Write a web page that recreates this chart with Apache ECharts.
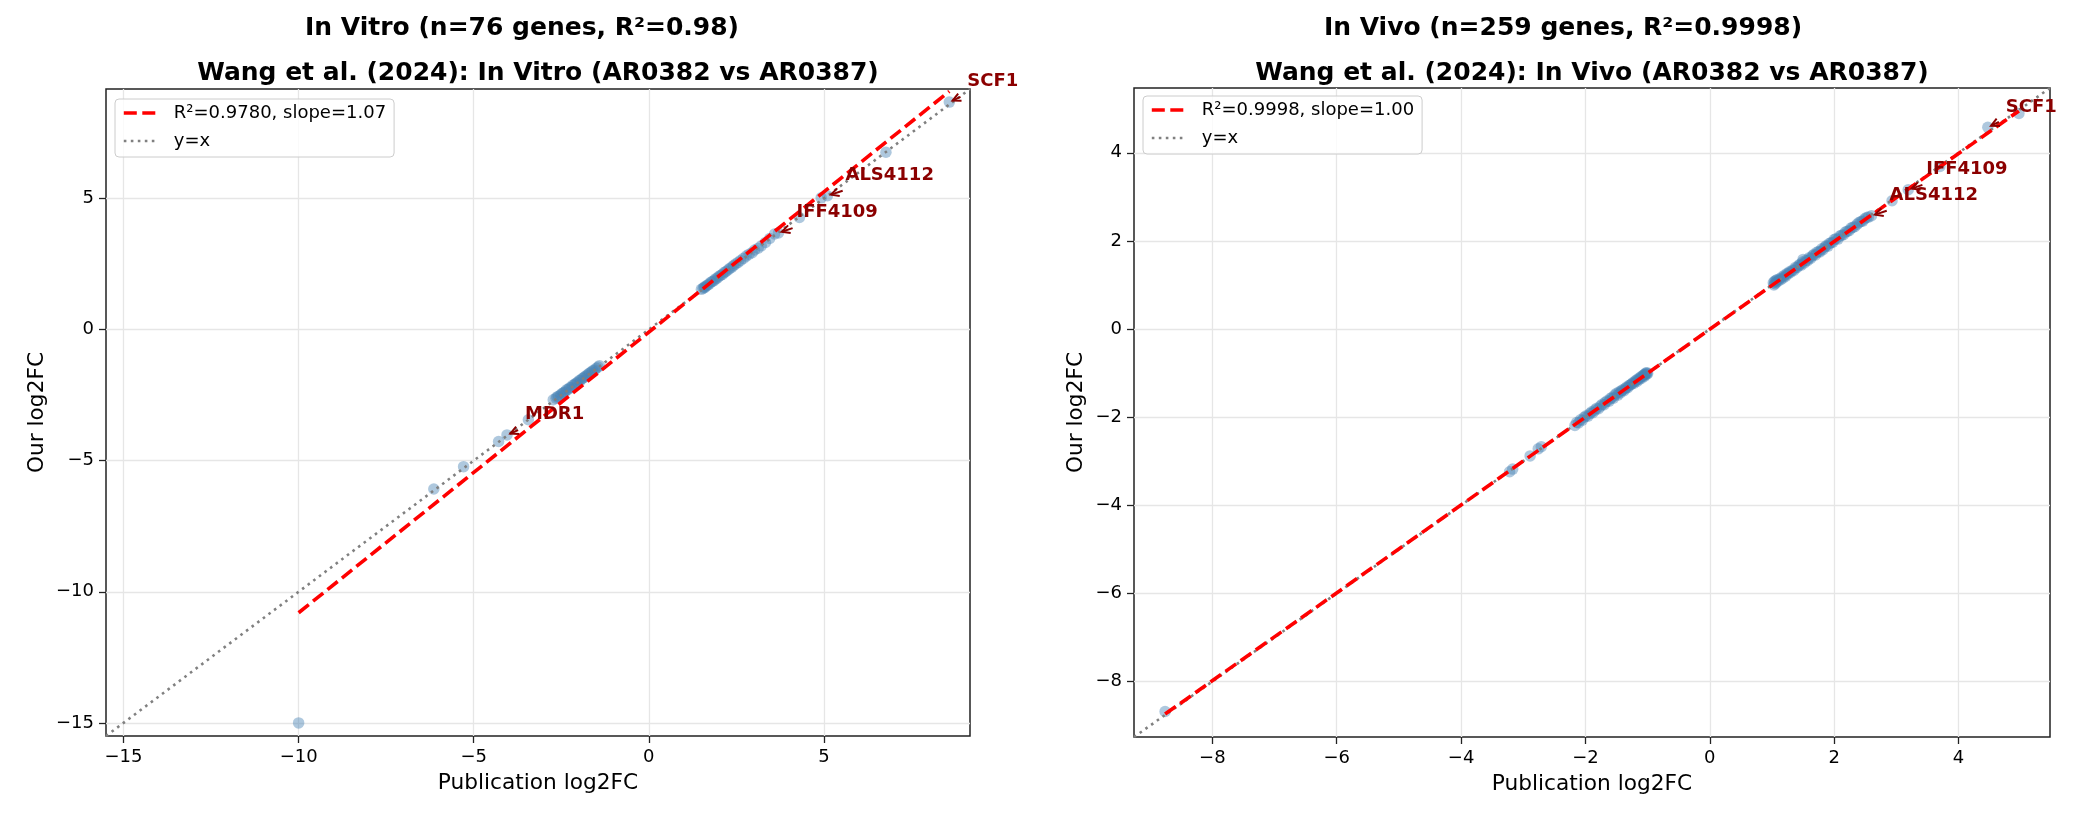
<!DOCTYPE html>
<html>
<head>
<meta charset="utf-8">
<title>Wang et al. (2024): publication vs our log2FC</title>
<script src="https://cdn.jsdelivr.net/npm/echarts@6/dist/echarts.min.js"></script>
<style>
  html, body { margin: 0; padding: 0; background: #fff; }
  #chart { width: 2085px; height: 823px; }
</style>
</head>
<body>
<div id="chart"></div>
<script>
// ---- In Vitro (n=76) : [publication log2FC, our log2FC] ----
var vitroLabelled = [
  { name: 'SCF1',    value: [8.58, 8.67] },
  { name: 'ALS4112', value: [5.10, 5.10] },
  { name: 'IFF4109', value: [3.70, 3.68] },
  { name: 'MDR1',    value: [-4.05, -4.02] }
];
var vitroOther = [
  [-10, -15], [-6.14, -6.08], [-5.29, -5.23], [-4.29, -4.27], [-3.44, -3.44],
  [3.59, 3.64], [4.30, 4.27], [4.92, 5.02], [6.77, 6.76]
];
var vitroDown = [
  [-2.73, -2.68], [-2.65, -2.62], [-2.62, -2.57], [-2.58, -2.55], [-2.52, -2.50],
  [-2.48, -2.44], [-2.44, -2.41], [-2.39, -2.37], [-2.35, -2.30], [-2.30, -2.28],
  [-2.26, -2.22], [-2.21, -2.20], [-2.17, -2.13], [-2.12, -2.10], [-2.08, -2.05],
  [-2.04, -2.02], [-1.99, -1.95], [-1.95, -1.93], [-1.90, -1.87], [-1.86, -1.84],
  [-1.82, -1.79], [-1.77, -1.75], [-1.73, -1.70], [-1.69, -1.66], [-1.64, -1.62],
  [-1.60, -1.57], [-1.55, -1.54], [-1.50, -1.48], [-1.45, -1.43], [-1.41, -1.38]
];
var vitroUp = [
  [1.50, 1.53], [1.55, 1.57], [1.58, 1.62], [1.60, 1.60], [1.64, 1.66],
  [1.68, 1.70], [1.72, 1.73], [1.77, 1.80], [1.81, 1.83], [1.86, 1.86],
  [1.90, 1.93], [1.95, 1.96], [2.00, 2.02], [2.05, 2.07], [2.10, 2.10],
  [2.15, 2.17], [2.20, 2.21], [2.26, 2.27], [2.31, 2.33], [2.37, 2.38],
  [2.42, 2.44], [2.48, 2.50], [2.55, 2.56], [2.62, 2.63], [2.70, 2.71],
  [2.78, 2.80], [2.86, 2.87], [2.95, 2.93], [3.02, 3.03], [3.12, 3.10],
  [3.21, 3.19], [3.33, 3.32], [3.45, 3.47]
];
var vitroFitLine = [[-10, -10.8], [8.58, 9.08]];
var vitroLimits = [-15.5, 9.17];
var vitroTicks = [-15, -10, -5, 0, 5];

// ---- In Vivo (n=259) ----
var vivoLabelled = [
  { name: 'SCF1',    value: [4.47, 4.58] },
  { name: 'IFF4109', value: [3.19, 3.16] },
  { name: 'ALS4112', value: [2.60, 2.57] }
];
var vivoOther = [
  [-8.76, -8.68], [-3.22, -3.24], [-3.17, -3.18], [-2.89, -2.88], [-2.76, -2.72],
  [-2.71, -2.67], [2.93, 2.91], [3.70, 3.69], [4.97, 4.89]
];
var vivoDown = [
  [-2.17, -2.19], [-2.14, -2.12], [-2.11, -2.13], [-2.08, -2.06], [-2.05, -2.07],
  [-2.02, -2.00], [-1.99, -1.97], [-1.96, -1.98], [-1.93, -1.92], [-1.90, -1.88],
  [-1.88, -1.90], [-1.85, -1.84], [-1.82, -1.80], [-1.79, -1.81], [-1.76, -1.75],
  [-1.73, -1.71], [-1.70, -1.72], [-1.68, -1.66], [-1.65, -1.63], [-1.62, -1.64],
  [-1.60, -1.58], [-1.57, -1.55], [-1.55, -1.57], [-1.53, -1.50], [-1.50, -1.46],
  [-1.48, -1.50], [-1.46, -1.43], [-1.44, -1.45], [-1.42, -1.40], [-1.40, -1.38],
  [-1.38, -1.40], [-1.36, -1.35], [-1.34, -1.32], [-1.32, -1.33], [-1.30, -1.28],
  [-1.28, -1.27], [-1.26, -1.25], [-1.24, -1.22], [-1.22, -1.23], [-1.20, -1.18],
  [-1.18, -1.16], [-1.17, -1.19], [-1.15, -1.13], [-1.13, -1.14], [-1.12, -1.10],
  [-1.10, -1.08], [-1.09, -1.11], [-1.07, -1.05], [-1.06, -1.04], [-1.05, -1.07],
  [-1.04, -1.02], [-1.03, -1.00], [-1.02, -1.03], [-1.01, -0.99], [-1.00, -1.01]
];
var vivoUp = [
  [1.02, 1.05], [1.03, 1.00], [1.04, 1.08], [1.05, 1.03], [1.06, 1.10],
  [1.07, 1.06], [1.08, 1.12], [1.10, 1.09], [1.12, 1.14], [1.14, 1.12],
  [1.16, 1.18], [1.18, 1.16], [1.20, 1.22], [1.22, 1.20], [1.24, 1.26],
  [1.26, 1.25], [1.28, 1.30], [1.30, 1.29], [1.33, 1.34], [1.35, 1.33],
  [1.38, 1.40], [1.40, 1.39], [1.43, 1.44], [1.45, 1.47], [1.47, 1.45],
  [1.49, 1.52], [1.50, 1.58], [1.52, 1.50], [1.55, 1.56], [1.57, 1.55],
  [1.60, 1.62], [1.62, 1.60], [1.65, 1.66], [1.67, 1.69], [1.70, 1.68],
  [1.72, 1.74], [1.75, 1.76], [1.77, 1.75], [1.80, 1.82], [1.82, 1.80],
  [1.85, 1.86], [1.87, 1.89], [1.90, 1.88], [1.92, 1.94], [1.95, 1.96],
  [1.98, 1.97], [2.00, 2.03], [2.03, 2.05], [2.06, 2.04], [2.09, 2.11],
  [2.12, 2.13], [2.15, 2.14], [2.18, 2.20], [2.21, 2.22], [2.24, 2.23],
  [2.27, 2.29], [2.30, 2.31], [2.33, 2.32], [2.37, 2.38], [2.40, 2.42],
  [2.43, 2.44], [2.46, 2.45], [2.49, 2.50], [2.52, 2.53], [2.55, 2.54]
];
var vivoFitLine = [[-8.76, -8.74], [4.97, 4.95]];
var vivoLimits = [-9.26, 5.47];
var vivoTicks = [-8, -6, -4, -2, 0, 2, 4];

var vitroFitName = 'R\u00b2=0.9780, slope=1.07';
var vivoFitName = 'R\u00b2=0.9998, slope=1.00';

var FONT = '"DejaVu Sans", "Liberation Sans", sans-serif';
var DARKRED = '#8b0000';
var FIT_WIDTH = 3.6;
var DIAG_WIDTH = 2.6;

var myChart = echarts.init(document.getElementById('chart'));
var measureCtx = document.createElement('canvas').getContext('2d');

function minusSign(v) {
  return String(v).replace('-', '\u2212');
}

function pointsOf(labelled, rest) {
  return labelled.map(function (g) { return g.value; }).concat(rest);
}

// matplotlib-like annotate: text offset up-right, arrow back to the point
function annotRenderer(genes) {
  var fs = 18;
  return function (params, api) {
    var p = api.coord([api.value(0), api.value(1)]);
    var name = genes[params.dataIndex].name;
    measureCtx.font = 'bold ' + fs + 'px ' + FONT;
    var w = measureCtx.measureText(name).width;
    var tx = p[0] + 18, base = p[1] - 14;
    var cx = tx + w / 2, cy = base - 0.35 * fs;
    var left = tx - 3.6, right = tx + w + 3.6;
    var top = base - 0.93 * fs - 3.6, bottom = base + 0.24 * fs + 3.6;
    var dx = p[0] - cx, dy = p[1] - cy;
    var len = Math.sqrt(dx * dx + dy * dy);
    var t = 1;
    if (dx < 0) t = Math.min(t, (left - cx) / dx);
    if (dx > 0) t = Math.min(t, (right - cx) / dx);
    if (dy > 0) t = Math.min(t, (bottom - cy) / dy);
    if (dy < 0) t = Math.min(t, (top - cy) / dy);
    var ux = dx / len, uy = dy / len;
    var sx = cx + dx * t + ux * 3.6, sy = cy + dy * t + uy * 3.6;
    var ex = p[0] - ux * 3.6, ey = p[1] - uy * 3.6;
    var hl = 8, hw = 4;
    var bx = ex - ux * hl, by = ey - uy * hl;
    return {
      type: 'group',
      children: [
        { type: 'line', shape: { x1: sx, y1: sy, x2: ex, y2: ey },
          style: { stroke: DARKRED, lineWidth: 2 } },
        { type: 'polyline',
          shape: { points: [[bx - uy * hw, by + ux * hw], [ex, ey], [bx + uy * hw, by - ux * hw]] },
          style: { stroke: DARKRED, lineWidth: 2, fill: null } },
        { type: 'text',
          style: { x: tx, y: cy, text: name, fill: DARKRED, align: 'left', verticalAlign: 'middle',
                   font: 'bold ' + fs + 'px ' + FONT } }
      ]
    };
  };
}

function makeAxis(gridIndex, limits, ticks, name, nameGap) {
  return {
    type: 'value',
    gridIndex: gridIndex,
    min: limits[0],
    max: limits[1],
    name: name,
    nameLocation: 'middle',
    nameGap: nameGap,
    nameTextStyle: { fontSize: 21.7, color: '#000', fontFamily: FONT },
    axisLine: { show: false, onZero: false },
    axisTick: { show: true, length: 7, customValues: ticks, lineStyle: { color: '#222', width: 1.3 } },
    axisLabel: { customValues: ticks, fontSize: 18, color: '#000', margin: 12, fontFamily: FONT,
                 formatter: minusSign },
    splitLine: { show: true, lineStyle: { color: '#e6e6e6', width: 1.3 } }
  };
}

function makeLegend(left, top, fitName) {
  return {
    data: [
      { name: fitName, lineStyle: { width: FIT_WIDTH } },
      { name: 'y=x', lineStyle: { width: DIAG_WIDTH } }
    ],
    orient: 'vertical',
    left: left,
    top: top,
    selectedMode: false,
    itemWidth: 32,
    itemHeight: 14,
    itemGap: 10,
    padding: [5, 8, 7, 7],
    borderColor: '#cccccc',
    borderWidth: 1,
    borderRadius: 4,
    backgroundColor: 'rgba(255,255,255,0.8)',
    itemStyle: { opacity: 0 },
    textStyle: { fontSize: 18, color: '#000', fontFamily: FONT, padding: [0, 0, 0, 13] }
  };
}

function panelSeries(idx, points, fitLine, fitName, limits, labelled) {
  return [
    {
      name: 'genes' + idx, type: 'scatter', xAxisIndex: idx, yAxisIndex: idx,
      data: points, symbolSize: 11.5, z: 2,
      itemStyle: { color: 'rgba(70,130,180,0.55)' }
    },
    {
      name: 'y=x', type: 'line', xAxisIndex: idx, yAxisIndex: idx,
      data: [[limits[0], limits[0]], [limits[1], limits[1]]],
      symbol: 'none', z: 3,
      lineStyle: { color: '#808080', width: DIAG_WIDTH, type: [2.6, 4.4] }
    },
    {
      name: fitName, type: 'line', xAxisIndex: idx, yAxisIndex: idx,
      data: fitLine, symbol: 'none', z: 4,
      lineStyle: { color: '#ff0000', width: FIT_WIDTH, type: [13, 5.5] }
    },
    {
      name: 'labels' + idx, type: 'custom', xAxisIndex: idx, yAxisIndex: idx,
      data: labelled.map(function (g) { return g.value; }),
      encode: { x: 0, y: 1 }, z: 5, silent: true,
      renderItem: annotRenderer(labelled)
    }
  ];
}

var titleStyle = { fontSize: 25, fontWeight: 'bold', color: '#000', fontFamily: FONT };

var option = {
  animation: false,
  textStyle: { fontFamily: FONT },
  title: [
    { text: 'In Vitro (n=76 genes, R\u00b2=0.98)', left: 522, top: 16, textAlign: 'center', padding: 0, textStyle: titleStyle },
    { text: 'Wang et al. (2024): In Vitro (AR0382 vs AR0387)', left: 538, top: 61, textAlign: 'center', padding: 0, textStyle: titleStyle },
    { text: 'In Vivo (n=259 genes, R\u00b2=0.9998)', left: 1563, top: 16, textAlign: 'center', padding: 0, textStyle: titleStyle },
    { text: 'Wang et al. (2024): In Vivo (AR0382 vs AR0387)', left: 1592, top: 61, textAlign: 'center', padding: 0, textStyle: titleStyle }
  ],
  legend: [
    makeLegend(115, 99, vitroFitName),
    makeLegend(1143, 96, vivoFitName)
  ],
  grid: [
    { left: 106, top: 89, width: 864, height: 647, show: true, borderColor: '#222', borderWidth: 1.5 },
    { left: 1134, top: 88, width: 916, height: 649, show: true, borderColor: '#222', borderWidth: 1.5 }
  ],
  xAxis: [
    makeAxis(0, vitroLimits, vitroTicks, 'Publication log2FC', 36),
    makeAxis(1, vivoLimits, vivoTicks, 'Publication log2FC', 36)
  ],
  yAxis: [
    makeAxis(0, vitroLimits, vitroTicks, 'Our log2FC', 58),
    makeAxis(1, vivoLimits, vivoTicks, 'Our log2FC', 47)
  ],
  series: []
    .concat(panelSeries(0, pointsOf(vitroLabelled, vitroOther.concat(vitroDown, vitroUp)),
                        vitroFitLine, vitroFitName, vitroLimits, vitroLabelled))
    .concat(panelSeries(1, pointsOf(vivoLabelled, vivoOther.concat(vivoDown, vivoUp)),
                        vivoFitLine, vivoFitName, vivoLimits, vivoLabelled))
};

myChart.setOption(option);
</script>
</body>
</html>
